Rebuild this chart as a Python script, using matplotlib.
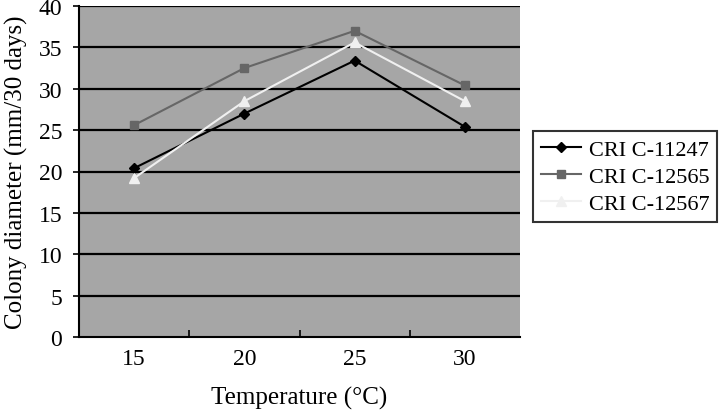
import matplotlib
matplotlib.use("Agg")
import matplotlib.pyplot as plt
import numpy as np

categories = ["15", "20", "25", "30"]
s1_name = "CRI C-11247"
s1 = [20.4, 27.0, 33.4, 25.4]
s2_name = "CRI C-12565"
s2 = [25.6, 32.5, 37.0, 30.4]
s3_name = "CRI C-12567"
s3 = [19.2, 28.5, 35.6, 28.5]
yticks = [0, 5, 10, 15, 20, 25, 30, 35, 40]

plt.rcParams['font.family'] = ['Liberation Serif', 'DejaVu Serif']

fig = plt.figure(figsize=(7.25, 4.14), dpi=100)
ax = fig.add_axes([79/725, 1-338/414, 441/725, 331/414])
ax.set_facecolor('#a6a6a6')
x = np.arange(len(categories))
for yv in yticks[1:]:
    ax.axhline(yv, color='black', lw=1.6, zorder=1)
ax.plot(x, s1, color='black', marker='D', ms=5, lw=1.5, label=s1_name, zorder=3)
ax.plot(x, s2, color='#666666', marker='s', ms=6, lw=1.5, label=s2_name, zorder=3)
ax.plot(x, s3, color='#f0f0f0', marker='^', ms=7, lw=1.5, label=s3_name, zorder=3)
ax.set_xlim(-0.5, 3.5)
ax.set_ylim(0, 40)
ax.set_yticks(yticks)
ax.set_xticks(x)
ax.set_xticklabels(categories)
ax.set_xticks([0.5, 1.5, 2.5], minor=True)
ax.tick_params(axis='x', which='major', length=0, labelsize=17, pad=8)
ax.tick_params(axis='x', which='minor', length=5, direction='in', width=1.2)
ax.tick_params(axis='y', length=4, direction='out', labelsize=17, pad=8, width=1.2)
for s in ['top', 'right']:
    ax.spines[s].set_visible(False)
ax.spines['left'].set_linewidth(1.5)
ax.spines['bottom'].set_linewidth(1.5)
ax.set_xlabel('Temperature (°C)', fontsize=18, labelpad=12)
ax.set_ylabel('Colony diameter (mm/30 days)', fontsize=18, labelpad=8)
leg = ax.legend(loc='center left', bbox_to_anchor=((533-79)/441, 0.485), fontsize=16,
                frameon=True, fancybox=False, edgecolor='black', handlelength=1.8,
                borderpad=0.35, labelspacing=0.3, handletextpad=0.35, borderaxespad=0)
leg.get_frame().set_linewidth(1.5)
fig.savefig('out.png', dpi=100, facecolor='white')
